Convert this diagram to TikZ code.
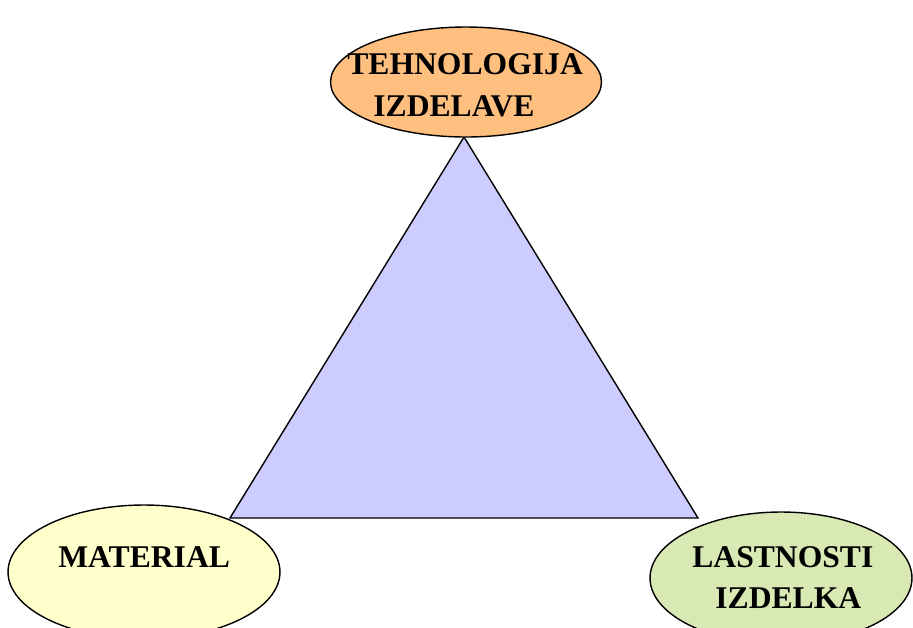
\documentclass[tikz,border=0pt]{standalone}
\usepackage{fontspec}
\setmainfont{Liberation Serif}
\usetikzlibrary{shapes.geometric}

\definecolor{techorange}{RGB}{255,191,127}
\definecolor{matyellow}{RGB}{255,255,204}
\definecolor{lastgreen}{RGB}{216,233,180}
\definecolor{trililac}{RGB}{204,204,255}

\begin{document}
\begin{tikzpicture}[x=0.02cm, y=-0.02cm,
    oval/.style={ellipse, draw=black, line width=0.8pt, inner sep=0pt},
    word/.style={anchor=base west, inner sep=0pt,
        font=\fontsize{18}{22}\selectfont\bfseries}]
    \useasboundingbox (0,0) rectangle (913,627);
    \clip (0,0) rectangle (913,627);

    % the three corners
    \coordinate (A) at (464,137);
    \coordinate (B) at (230,518);
    \coordinate (C) at (698,518);

    \filldraw[fill=trililac, line width=0.8pt, line join=miter] (A) -- (B) -- (C) -- cycle;

    \node[oval, fill=techorange, minimum width=5.42cm, minimum height=2.2cm] (tech) at (466,82) {};
    \node[oval, fill=matyellow, minimum width=5.44cm, minimum height=2.68cm] (mat) at (144,572) {};
    \node[oval, fill=lastgreen, minimum width=5.24cm, minimum height=2.64cm] (last) at (781,578) {};

    \node[word] (techa) at (347,74) {TEHNOLOGIJA};
    \node[word] (techb) at (373,116) {IZDELAVE};
    \node[word] (mata) at (58,567) {MATERIAL};
    \node[word] (lasta) at (692,567) {LASTNOSTI};
    \node[word] (lastb) at (715,608) {IZDELKA};
\end{tikzpicture}
\end{document}
